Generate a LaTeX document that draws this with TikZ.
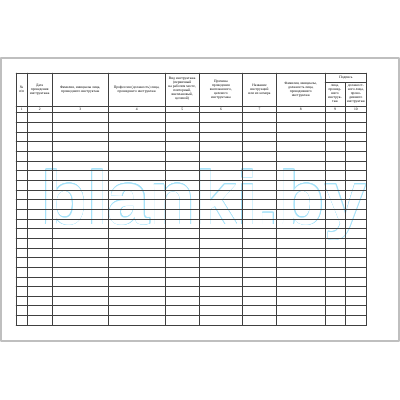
\documentclass[tikz,border=0pt]{standalone}
\usepackage{fontspec}
\setmainfont{Liberation Serif}
\newfontfamily\wmfont{Liberation Sans}
\usepackage{contour}
\contourlength{0.45pt}
\begin{document}
\begin{tikzpicture}[x=1pt, y=-1pt, line cap=round, line join=round, font=\fontsize{3.6}{4.1}\selectfont]
	\tikzset{head style/.style={align=center, inner sep=0pt},
		grid line/.style={black!75, line width=0.5pt}}
	\useasboundingbox (0,0) rectangle (400,400);
	% sheet
	\draw[black!25, line width=1.2pt] (1,58) rectangle (399,341);
	% watermark
	\node[anchor=base west, inner sep=0pt] (wm) at (41,224) {\wmfont\bfseries\fontsize{75}{75}\selectfont\contour{cyan!35}{\textcolor{white}{blanki.by}}};
	% table
	\foreach \x in {16,27.3,52,108.3,165,199.3,242.5,276.5,325,366.7}
		\draw[grid line] (\x,73) -- (\x,325);
	\draw[grid line] (345,82.7) -- (345,325);
	\draw[grid line] (16,73) -- (366.7,73);
	\draw[grid line] (325,82.7) -- (366.7,82.7);
	\draw[grid line] (16,106) -- (366.7,106);
	\foreach \i in {0,...,22}
		\draw[grid line] (16,112.7+9.65*\i) -- (366.7,112.7+9.65*\i);
	% headings
	\node[head style] (h1) at (21.7,89.5) {№\\п/п};
	\node[head style] (h2) at (39.7,89.5) {Дата\\проведения\\инструктажа};
	\node[head style] (h3) at (80.2,89.5) {Фамилия, инициалы лица,\\прошедшего инструктаж};
	\node[head style] (h4) at (136.7,89.5) {Профессия (должность) лица,\\прошедшего инструктаж};
	\node[head style] (h5) at (182.2,88.7) {Вид инструктажа\\(первичный\\на рабочем месте,\\повторный,\\внеплановый,\\целевой)};
	\node[head style] (h6) at (220.9,89.5) {Причина\\проведения\\внепланового,\\целевого\\инструктажа};
	\node[head style] (h7) at (259.5,89.5) {Название\\инструкций\\или их номера};
	\node[head style] (h8) at (300.8,89.5) {Фамилия, инициалы,\\должность лица,\\проводившего\\инструктаж};
	\node[head style] (sign) at (345.9,78) {Подпись};
	\node[head style] (h9) at (335,93.9) {лица,\\прошед-\\шего\\инструк-\\таж};
	\node[head style] (h10) at (355.9,93.9) {должност-\\ного лица,\\прово-\\дившего\\инструктаж};
	\foreach \n/\x in {1/21.7,2/39.7,3/80.2,4/136.7,5/182.2,6/220.9,7/259.5,8/300.8,9/335,10/355.9}
		\node[inner sep=0pt] (n\n) at (\x,109.6) {\n};
\end{tikzpicture}
\end{document}
